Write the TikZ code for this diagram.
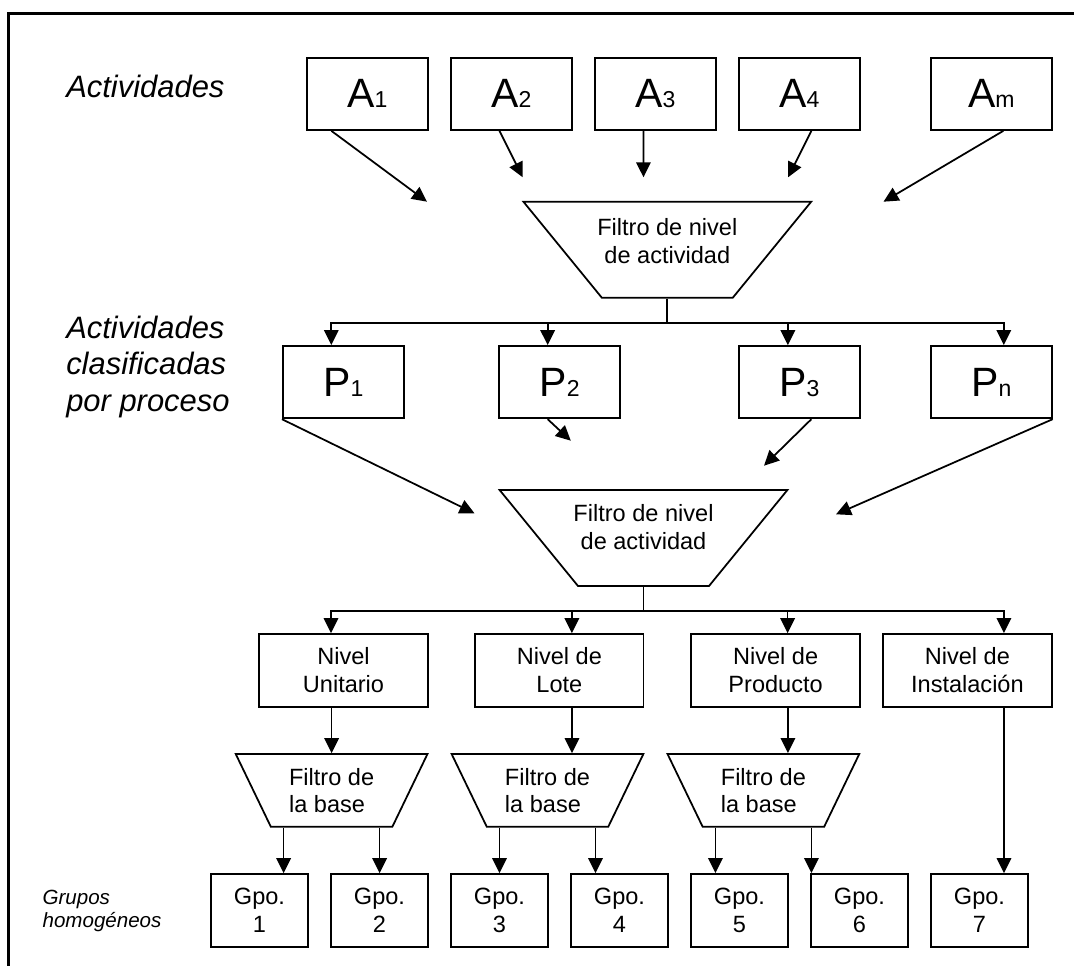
\documentclass[tikz,border=0pt]{standalone}
\usepackage{fontspec}
\setmainfont{Liberation Sans}
\usetikzlibrary{arrows.meta,shapes.geometric}

\newcommand{\subidx}[1]{{\fontsize{13.1pt}{14pt}\selectfont #1}}

\begin{document}
\begin{tikzpicture}[
    line width=1pt,
    >={Triangle[length=8.5pt,width=8.2pt]},
    actbox/.style={draw, inner sep=0pt, minimum width=2.42cm, minimum height=1.446cm,
      font=\fontsize{23.3pt}{26pt}\selectfont},
    nivbox/.style={draw, inner sep=0pt, minimum width=3.37cm, minimum height=1.454cm,
      align=center, font=\fontsize{13.4pt}{15.8pt}\selectfont},
    gpobox/.style={draw, inner sep=0pt, minimum width=1.93cm, minimum height=1.454cm,
      align=center, font=\fontsize{13.4pt}{15.8pt}\selectfont},
    filtrogrande/.style={draw, trapezium, trapezium stretches=true,
      trapezium left angle=120.9, trapezium right angle=120.9,
      inner sep=3pt, minimum width=5.76cm, minimum height=1.92cm},
    filtrochico/.style={draw, trapezium, trapezium stretches=true,
      trapezium left angle=118.1, trapezium right angle=118.1,
      inner sep=1pt, minimum width=3.86cm, minimum height=1.454cm,
      align=left, font=\fontsize{13.4pt}{15.4pt}\selectfont},
    txt/.style={inner sep=0pt, align=center, font=\fontsize{13.4pt}{16pt}\selectfont},
    lado/.style={inner sep=0pt, align=left, font=\itshape\fontsize{17.6pt}{20.9pt}\selectfont},
    ladochico/.style={inner sep=0pt, align=left, font=\itshape\fontsize{11.7pt}{12.7pt}\selectfont}
  ]
    \useasboundingbox (0,0) rectangle (21.48,-19.32);
    \draw[line width=1.2pt] (0.17,-19.32) -- (0.17,-0.27) -- (21.48,-0.27);

    \node[lado, anchor=base west] (lab1) at (1.308,-1.946) {Actividades};
    \node[lado, anchor=west] (lab2) at (1.308,-7.34) {Actividades\\clasificadas\\por proceso};
    \node[ladochico, anchor=west] (lab3) at (0.834,-18.216) {Grupos\\homogéneos};

    \node[actbox] (A1) at (7.348,-1.877) {A\subidx{1}};
    \node[actbox] (A2) at (10.229,-1.877) {A\subidx{2}};
    \node[actbox] (A3) at (13.108,-1.877) {A\subidx{3}};
    \node[actbox] (A4) at (15.987,-1.877) {A\subidx{4}};
    \node[actbox] (Am) at (19.826,-1.877) {A\subidx{m}};

    \coordinate (a1) at (8.54,-4.034);
    \coordinate (a2) at (10.454,-3.546);
    \coordinate (a3) at (12.87,-3.546);
    \coordinate (a4) at (15.762,-3.546);
    \coordinate (a5) at (17.67,-4.034);
    \draw[->] ([xshift=-7.2mm]A1.south) -- (a1);
    \draw[->] ([xshift=-2.4mm]A2.south) -- (a2);
    \draw[->] ([xshift=-2.4mm]A3.south) -- (a3);
    \draw[->] ([xshift=2.4mm]A4.south) -- (a4);
    \draw[->] ([xshift=2.4mm]Am.south) -- (a5);

    \node[filtrogrande] (F1) at (13.346,-4.994) {};
    \node[txt] (f1) at (13.346,-4.814) {Filtro de nivel\\de actividad};

    \node[actbox] (P1) at (6.866,-7.643) {P\subidx{1}};
    \node[actbox] (P2) at (11.193,-7.643) {P\subidx{2}};
    \node[actbox] (P3) at (15.987,-7.643) {P\subidx{3}};
    \node[actbox] (Pn) at (19.826,-7.643) {P\subidx{n}};

    \draw (F1.south) -- ++(0,-0.486) coordinate (j1);
    \draw[->] (j1) -| ([xshift=-2.4mm]P1.north);
    \draw[->] (j1) -| ([xshift=-2.4mm]P2.north);
    \draw[->] (j1) -| ([xshift=-2.3mm]P3.north);
    \draw[->] (j1) -| ([xshift=2.5mm]Pn.north);

    \coordinate (p1) at (9.49,-10.266);
    \coordinate (p2) at (11.416,-8.814);
    \coordinate (p3) at (15.28,-9.314);
    \coordinate (p4) at (16.72,-10.286);
    \draw[->] (P1.south west) -- (p1);
    \draw[->] ([xshift=-2.4mm]P2.south) -- (p2);
    \draw[->] ([xshift=2.4mm]P3.south) -- (p3);
    \draw[->] (Pn.south east) -- (p4);

    \node[filtrogrande] (F2) at (12.87,-10.76) {};
    \node[txt] (f2) at (12.87,-10.55) {Filtro de nivel\\de actividad};

    \node[nivbox] (N1) at (6.87,-13.407) {Nivel\\Unitario};
    \node[nivbox] (N2) at (11.187,-13.407) {Nivel de\\Lote};
    \node[nivbox] (N3) at (15.512,-13.407) {Nivel de\\Producto};
    \node[nivbox] (N4) at (19.348,-13.407) {Nivel de\\Instalación};

    \draw (F2.south) -- ++(0,-0.48) coordinate (j2);
    \draw[->] (j2) -| ([xshift=-2.5mm]N1.north);
    \draw[->] (j2) -| ([xshift=2.5mm]N2.north);
    \draw[->] (j2) -| ([xshift=2.4mm]N3.north);
    \draw[->] (j2) -| ([xshift=7.3mm]N4.north);

    \node[filtrochico] (B1) at (6.632,-15.807) {Filtro de\\la base};
    \node[filtrochico] (B2) at (10.95,-15.807) {Filtro de\\la base};
    \node[filtrochico] (B3) at (15.268,-15.807) {Filtro de\\la base};

    \node[gpobox] (G1) at (5.19,-18.207) {Gpo.\\1};
    \node[gpobox] (G2) at (7.59,-18.207) {Gpo.\\2};
    \node[gpobox] (G3) at (9.99,-18.207) {Gpo.\\3};
    \node[gpobox] (G4) at (12.39,-18.207) {Gpo.\\4};
    \node[gpobox] (G5) at (14.79,-18.207) {Gpo.\\5};
    \node[gpobox] (G6) at (17.19,-18.207) {Gpo.\\6};
    \node[gpobox] (G7) at (19.59,-18.207) {Gpo.\\7};

    \draw[->] (B1.north |- N1.south) -- (B1.north);
    \draw[->] ([xshift=4.9mm]B2.north |- N2.south) -- ([xshift=4.9mm]B2.north);
    \draw[->] ([xshift=4.9mm]B3.north |- N3.south) -- ([xshift=4.9mm]B3.north);
    \draw[->] ([xshift=4.9mm]G7.north |- N4.south) -- ([xshift=4.9mm]G7.north);

    \draw[->] ([xshift=-9.6mm]B1.south) -- ([xshift=-9.6mm]B1.south |- G1.north);
    \draw[->] ([xshift=9.6mm]B1.south) -- ([xshift=9.6mm]B1.south |- G2.north);
    \draw[->] ([xshift=-9.6mm]B2.south) -- ([xshift=-9.6mm]B2.south |- G3.north);
    \draw[->] ([xshift=9.6mm]B2.south) -- ([xshift=9.6mm]B2.south |- G4.north);
    \draw[->] ([xshift=-9.6mm]B3.south) -- ([xshift=-9.6mm]B3.south |- G5.north);
    \draw[->] ([xshift=9.6mm]B3.south) -- ([xshift=9.6mm]B3.south |- G6.north);
  \end{tikzpicture}
\end{document}
